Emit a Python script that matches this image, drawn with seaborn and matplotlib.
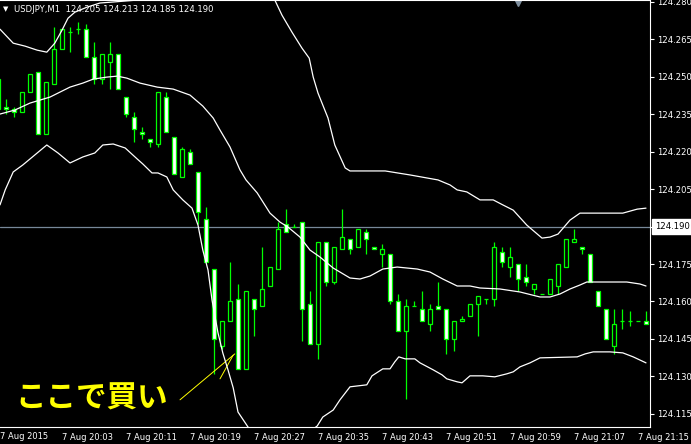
import matplotlib
matplotlib.use("Agg")
import matplotlib.pyplot as plt
import matplotlib.transforms as mtransforms
import numpy as np
import pandas as pd
import seaborn as sns

# --- candle data (minutes after 20:00, USDJPY M1) ---
minute = list(range(-5, 77))
opens = [124.237, 124.238, 124.237, 124.236, 124.244, 124.252, 124.227, 124.247, 124.261, 124.268,
         124.269, 124.269, 124.258, 124.249, 124.256, 124.259, 124.242, 124.234, 124.228, 124.225,
         124.223, 124.242, 124.226, 124.210, 124.220, 124.212, 124.193, 124.173, 124.142, 124.152,
         124.161, 124.133, 124.161, 124.158, 124.166, 124.173, 124.191, 124.190, 124.192, 124.159,
         124.143, 124.184, 124.168, 124.181, 124.185, 124.182, 124.188, 124.182, 124.179, 124.179,
         124.160, 124.148, 124.158, 124.157, 124.151, 124.158, 124.157, 124.145, 124.152, 124.154,
         124.159, 124.161, 124.161, 124.180, 124.174, 124.175, 124.170, 124.165, 124.163, 124.163,
         124.166, 124.174, 124.184, 124.182, 124.179, 124.164, 124.157, 124.142, 124.152, 124.152,
         124.152, 124.152]
highs = [124.249, 124.241, 124.238, 124.244, 124.251, 124.252, 124.248, 124.270, 124.269, 124.270,
         124.272, 124.271, 124.264, 124.259, 124.264, 124.259, 124.242, 124.236, 124.230, 124.225,
         124.244, 124.244, 124.226, 124.222, 124.221, 124.212, 124.198, 124.173, 124.152, 124.176,
         124.167, 124.164, 124.161, 124.182, 124.174, 124.192, 124.197, 124.191, 124.192, 124.164,
         124.184, 124.184, 124.182, 124.197, 124.185, 124.189, 124.189, 124.182, 124.183, 124.179,
         124.163, 124.161, 124.160, 124.164, 124.159, 124.168, 124.157, 124.152, 124.154, 124.159,
         124.162, 124.161, 124.184, 124.182, 124.182, 124.175, 124.175, 124.167, 124.163, 124.169,
         124.175, 124.185, 124.189, 124.182, 124.179, 124.164, 124.157, 124.157, 124.157, 124.156,
         124.152, 124.156]
lows = [124.236, 124.235, 124.234, 124.236, 124.244, 124.227, 124.227, 124.247, 124.261, 124.260,
        124.267, 124.258, 124.247, 124.247, 124.245, 124.245, 124.234, 124.224, 124.225, 124.222,
        124.222, 124.228, 124.211, 124.210, 124.215, 124.191, 124.176, 124.131, 124.141, 124.152,
        124.133, 124.133, 124.146, 124.158, 124.166, 124.173, 124.188, 124.190, 124.144, 124.143,
        124.137, 124.166, 124.167, 124.181, 124.179, 124.182, 124.179, 124.181, 124.174, 124.159,
        124.148, 124.121, 124.158, 124.152, 124.148, 124.157, 124.139, 124.140, 124.152, 124.154,
        124.146, 124.159, 124.158, 124.174, 124.170, 124.164, 124.166, 124.163, 124.163, 124.163,
        124.163, 124.174, 124.184, 124.179, 124.168, 124.158, 124.145, 124.139, 124.149, 124.150,
        124.152, 124.151]
closes = [124.249, 124.237, 124.236, 124.244, 124.251, 124.227, 124.248, 124.261, 124.269, 124.268,
          124.269, 124.258, 124.249, 124.259, 124.259, 124.245, 124.235, 124.229, 124.227, 124.224,
          124.244, 124.228, 124.211, 124.221, 124.215, 124.196, 124.176, 124.145, 124.152, 124.160,
          124.133, 124.164, 124.157, 124.165, 124.174, 124.189, 124.188, 124.190, 124.157, 124.143,
          124.184, 124.168, 124.182, 124.186, 124.181, 124.189, 124.185, 124.181, 124.181, 124.160,
          124.148, 124.158, 124.158, 124.152, 124.157, 124.157, 124.145, 124.152, 124.153, 124.159,
          124.162, 124.161, 124.182, 124.176, 124.178, 124.169, 124.168, 124.167, 124.163, 124.169,
          124.175, 124.185, 124.185, 124.181, 124.168, 124.158, 124.145, 124.151, 124.152, 124.152,
          124.152, 124.151]

# --- Bollinger bands ---
upper_m = [-4.75, -3.1, -1.6, -0.1, 1.1, 2.1, 3.0, 3.75, 4.6, 6.1, 7.75, 9.4, 12.5, 15.25, 19.0,
           21.5, 24.6, 27.1, 29.6, 30.5, 31.75, 33.0, 33.9, 34.4, 35.0, 36.25, 37.1, 38.4, 39.0,
           43.4, 46.5, 50.0, 51.5, 52.4, 53.6, 55.25, 56.9, 58.1, 59.4, 61.1, 63.0, 64.0, 65.0,
           66.5, 67.75, 70.25, 73.1, 74.9, 76.0]
upper_v = [124.2691, 124.2635, 124.2623, 124.2607, 124.2599, 124.2635, 124.2687, 124.2735, 124.2759,
           124.2779, 124.2796, 124.2800, 124.2808, 124.2868, 124.2988, 124.3048, 124.3028, 124.2928,
           124.2808, 124.2747, 124.2679, 124.2615, 124.2575, 124.2499, 124.2435, 124.2335, 124.2227,
           124.2135, 124.2123, 124.2123, 124.2107, 124.2087, 124.2067, 124.2047, 124.2039, 124.2007,
           124.2007, 124.1987, 124.1966, 124.1906, 124.1854, 124.1858, 124.1870, 124.1926, 124.1954,
           124.1954, 124.1954, 124.1970, 124.1974]
mid_m = [-4.75, -2.9, -1.0, 1.5, 4.0, 5.6, 6.9, 8.6, 9.9, 11.1, 12.75, 14.9, 16.9, 19.0, 20.6, 21.9,
         22.75, 24.0, 25.25, 26.0, 27.4, 29.0, 30.25, 31.25, 32.75, 34.0, 35.25, 36.9, 39.0, 40.25,
         41.5, 43.1, 44.9, 47.4, 49.0, 50.6, 52.4, 54.0, 55.25, 57.75, 60.25, 62.75, 64.0, 65.25,
         66.5, 67.75, 68.6, 71.5, 73.6, 75.25, 76.0]
mid_v = [124.2351, 124.2367, 124.2395, 124.2419, 124.2459, 124.2475, 124.2491, 124.2499, 124.2503,
         124.2495, 124.2475, 124.2459, 124.2451, 124.2427, 124.2383, 124.2335, 124.2287, 124.2219,
         124.2127, 124.2087, 124.2035, 124.1954, 124.1918, 124.1898, 124.1858, 124.1806, 124.1778,
         124.1734, 124.1694, 124.1690, 124.1702, 124.1730, 124.1738, 124.1730, 124.1718, 124.1690,
         124.1662, 124.1662, 124.1654, 124.1650, 124.1638, 124.1618, 124.1618, 124.1630, 124.1650,
         124.1666, 124.1678, 124.1678, 124.1678, 124.1670, 124.1662]
lower_m = [-4.75, -4.1, -3.1, -1.9, -0.1, 1.1, 2.5, 4.0, 5.6, 7.1, 8.1, 9.4, 10.9, 12.4, 13.1, 14.25,
           15.0, 16.1, 16.9, 18.1, 19.25, 20.0, 20.6, 21.25, 21.75, 22.5, 23.1, 23.75, 24.4, 25.0,
           26.25, 27.75, 30.25, 31.9, 33.4, 34.9, 35.6, 36.9, 37.75, 39.0, 41.1, 41.75, 43.1, 44.0,
           44.6, 45.1, 45.9, 47.1, 47.75, 49.4, 50.5, 51.1, 52.4, 53.0, 54.0, 55.6, 57.1, 58.6, 59.4,
           60.25, 61.5, 62.75, 67.4, 68.4, 69.4, 71.5, 73.1, 74.4, 76.0]
lower_v = [124.1987, 124.2047, 124.2119, 124.2147, 124.2195, 124.2227, 124.2195, 124.2155, 124.2179,
           124.2195, 124.2227, 124.2231, 124.2215, 124.2171, 124.2151, 124.2115, 124.2115, 124.2099,
           124.2047, 124.2007, 124.1974, 124.1906, 124.1806, 124.1726, 124.1606, 124.1474, 124.1394,
           124.1326, 124.1254, 124.1157, 124.1097, 124.1025, 124.1045, 124.1093, 124.1065, 124.1101,
           124.1137, 124.1165, 124.1206, 124.1258, 124.1266, 124.1302, 124.1330, 124.1330, 124.1358,
           124.1378, 124.1370, 124.1370, 124.1354, 124.1326, 124.1306, 124.1290, 124.1278, 124.1274,
           124.1302, 124.1302, 124.1298, 124.1310, 124.1318, 124.1338, 124.1354, 124.1374, 124.1378,
           124.1390, 124.1398, 124.1398, 124.1394, 124.1378, 124.1354]

price_ticks = [124.115, 124.130, 124.145, 124.160, 124.175, 124.190, 124.205, 124.220, 124.235,
               124.250, 124.265, 124.280]
time_ticks = [3, 11, 19, 27, 35, 43, 51, 59, 67, 75]
time_labels = ["7 Aug 20:03", "7 Aug 20:11", "7 Aug 20:19", "7 Aug 20:27", "7 Aug 20:35",
               "7 Aug 20:43", "7 Aug 20:51", "7 Aug 20:59", "7 Aug 21:07", "7 Aug 21:15"]
bid_price = 124.190
header = "USDJPY,M1  124.205 124.213 124.185 124.190"
note = "ここで買い"

GREEN = "#00ff00"

sns.set_style("dark", {"axes.facecolor": "black", "figure.facecolor": "black",
                       "axes.edgecolor": "white", "grid.color": "black"})
plt.rcParams["font.family"] = ["DejaVu Sans", "Noto Sans CJK JP"]

fig = plt.figure(figsize=(6.91, 4.44), dpi=100, facecolor="black")
ax = fig.add_axes([0, 17 / 444, 650 / 691, 426.5 / 444])
ax.set_facecolor("black")

# bands
for bm, bv in [(upper_m, upper_v), (mid_m, mid_v), (lower_m, lower_v)]:
    band = pd.DataFrame({"m": bm, "v": bv})
    sns.lineplot(data=band, x="m", y="v", color="white", lw=0.9, ax=ax,
                 estimator=None, sort=False, zorder=5)

# candles
df = pd.DataFrame({"m": minute, "o": opens, "h": highs, "l": lows, "c": closes})
bull = df["c"] >= df["o"]
ax.axhline(bid_price, color="#778899", lw=0.9, zorder=2)
ax.vlines(df["m"], df["l"], df["h"], color=GREEN, lw=0.9, zorder=3)
ax.bar(df["m"], (df["c"] - df["o"]).abs(), bottom=df[["o", "c"]].min(axis=1), width=0.6,
       color=np.where(bull, "black", "white"), edgecolor=GREEN, lw=0.9, zorder=4)

ax.set_xlim(-4.75, 76.5)
ax.set_ylim(124.1097, 124.2806)
ax.set_xlabel("")
ax.set_ylabel("")
ax.grid(False)

ax.yaxis.tick_right()
ax.set_yticks(price_ticks)
# the bid box covers the 124.190 level, so that tick keeps its mark only
ax.set_yticklabels(["" if v == bid_price else f"{v:.3f}" for v in price_ticks])
ax.set_xticks(time_ticks)
ax.set_xticklabels(time_labels)
for lbl in ax.get_xticklabels():
    lbl.set_horizontalalignment("left")
ax.tick_params(axis="y", colors="white", length=3, width=0.8, pad=2, labelsize=6.1,
               direction="out", left=False, right=True)
ax.tick_params(axis="x", colors="white", length=3, width=0.8, pad=1.5, labelsize=6.0,
               direction="out")
ax.spines["left"].set_visible(False)
for s in ["top", "right", "bottom"]:
    ax.spines[s].set_color("white")
    ax.spines[s].set_linewidth(0.8)

# first date label at the left edge
ax.text(-4.7, -0.012, "7 Aug 2015", transform=ax.get_xaxis_transform(), ha="left", va="top",
        color="white", fontsize=6.0, clip_on=False)

# current bid label
trans = mtransforms.blended_transform_factory(ax.transAxes, ax.transData)
ax.text(1.008, bid_price, "124.190", transform=trans, ha="left", va="center", color="black",
        fontsize=6.1, zorder=10, clip_on=False,
        bbox=dict(boxstyle="square,pad=0.32", facecolor="white", edgecolor="white"))

# header
fig.text(3 / 691, 1 - 9 / 444, "▼", color="white", fontsize=5, va="center")
fig.text(14 / 691, 1 - 9 / 444, header, color="white", fontsize=6.1, va="center")
ax.plot([518 / 650], [0.994], marker="v", color="#8090a0", markersize=4,
        transform=ax.transAxes, clip_on=False)

# annotation
ax.text(15 / 650, (427 - 399) / 426.5, note, transform=ax.transAxes, ha="left", va="center",
        color="#ffff00", fontsize=22, fontweight="bold", family=["Noto Sans CJK JP"])
ax.annotate("", xy=(24.6, 124.139), xytext=(17.75, 124.1206),
            arrowprops=dict(arrowstyle="-", color="#ffff00", lw=0.7, shrinkA=0, shrinkB=0))
ax.annotate("", xy=(24.4, 124.1385), xytext=(22.75, 124.129),
            arrowprops=dict(arrowstyle="-", color="#ffff00", lw=0.7, shrinkA=0, shrinkB=0))

fig.savefig("out.png", dpi=100, facecolor="black")
